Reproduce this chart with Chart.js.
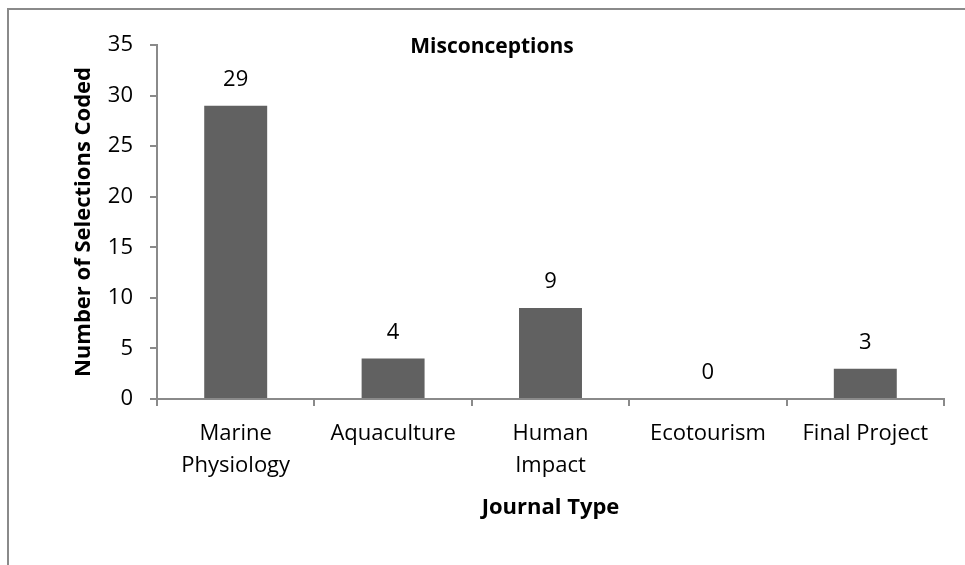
<!DOCTYPE html>
<html>
<head>
<meta charset="utf-8">
<script src="https://cdn.jsdelivr.net/npm/chart.js@4/dist/chart.umd.min.js"></script>
<style>
  body { margin: 0; background: #fff; }
  #wrap { position: relative; width: 965px; height: 565px; overflow: hidden; }
  #frame { position: absolute; left: 7px; top: 8px; width: 1000px; height: 600px; border: 2px solid #8a8a8a; box-sizing: border-box; }
  canvas { position: absolute; left: 0; top: 0; }
</style>
</head>
<body>
<div id="wrap">
  <div id="frame"></div>
  <canvas id="chart" width="965" height="565"></canvas>
</div>
<script>
// datos del gráfico
const categorias = [['Marine', 'Physiology'], 'Aquaculture', ['Human', 'Impact'], 'Ecotourism', 'Final Project'];
const valores = [29, 4, 9, 0, 3];
const tituloGrafico = 'Misconceptions';
const tituloX = 'Journal Type';
const tituloY = 'Number of Selections Coded';

const fuente = "'Open Sans', sans-serif";
const gris = '#8a8a8a';

// etiquetas de valor encima de cada barra
const etiquetasValor = {
    id: 'etiquetasValor',
    afterDatasetsDraw(chart) {
        const ctx = chart.ctx;
        const meta = chart.getDatasetMeta(0);
        ctx.save();
        ctx.font = '22px ' + fuente;
        ctx.fillStyle = '#000';
        ctx.textAlign = 'center';
        ctx.textBaseline = 'middle';
        meta.data.forEach((bar, i) => {
            ctx.fillText(String(valores[i]), bar.x, bar.y - 26);
        });
        ctx.restore();
    }
};

// título dentro del área del gráfico
const tituloInterno = {
    id: 'tituloInterno',
    afterDraw(chart) {
        const ctx = chart.ctx;
        ctx.save();
        ctx.font = 'bold 21px ' + fuente;
        ctx.fillStyle = '#000';
        ctx.textAlign = 'center';
        ctx.textBaseline = 'middle';
        ctx.fillText(tituloGrafico, 492, chart.chartArea.top + 2);
        ctx.restore();
    }
};

const ctx = document.getElementById('chart').getContext('2d');
new Chart(ctx, {
    type: 'bar',
    data: {
        labels: categorias,
        datasets: [{
            data: valores,
            backgroundColor: '#616161',
            borderWidth: 0,
            categoryPercentage: 1,
            barPercentage: 0.4
        }]
    },
    options: {
        responsive: false,
        animation: false,
        layout: { padding: { top: 45, right: 21, bottom: 0, left: 0 } },
        plugins: {
            legend: { display: false },
            tooltip: { enabled: false }
        },
        scales: {
            x: {
                offset: true,
                grid: { display: true, offset: true, drawOnChartArea: false, drawTicks: true, tickLength: 7, color: gris, lineWidth: 2 },
                border: { display: true, color: gris, width: 2 },
                ticks: { color: '#000', font: { family: fuente, size: 22, lineHeight: 1.45 }, padding: 12, maxRotation: 0 },
                title: { display: true, text: tituloX, color: '#000', font: { family: fuente, size: 22, weight: 'bold' }, padding: { top: 0, bottom: 44 } },
                afterFit(scale) { scale.height = 166; }
            },
            y: {
                min: 0,
                max: 35,
                grid: { display: true, drawOnChartArea: false, drawTicks: true, tickLength: 7, color: gris, lineWidth: 2 },
                border: { display: true, color: gris, width: 2 },
                ticks: { stepSize: 5, color: '#000', font: { family: fuente, size: 22 }, padding: 17 },
                title: { display: true, text: tituloY, color: '#000', font: { family: fuente, size: 22, weight: 'bold' }, padding: { top: 71, bottom: 0 } },
                afterFit(scale) { scale.width = 157; }
            }
        }
    },
    plugins: [etiquetasValor, tituloInterno]
});
</script>
</body>
</html>
